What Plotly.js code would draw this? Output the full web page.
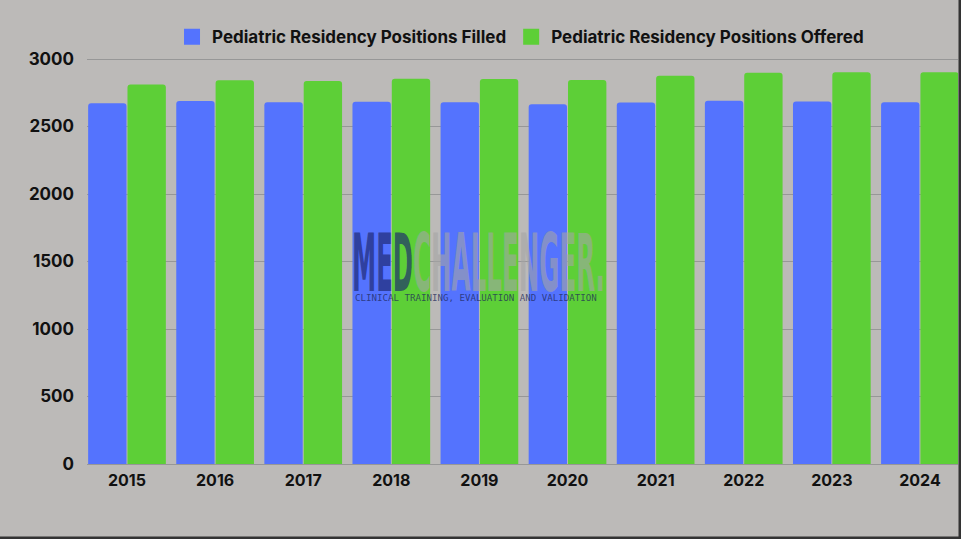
<!DOCTYPE html>
<html>
<head>
<meta charset="utf-8">
<script src="https://cdn.plot.ly/plotly-3.0.1.min.js"></script>
<style>html,body{margin:0;padding:0;background:#bcbab8;}#chart{width:961px;height:539px;}</style>
</head>
<body>
<div id="chart"></div>
<script>
const years = ['2015','2016','2017','2018','2019','2020','2021','2022','2023','2024'];
const filled = [2672, 2689, 2679, 2684, 2679, 2664, 2677, 2691, 2686, 2679];
const offered = [2812, 2842, 2837, 2854, 2852, 2844, 2876, 2899, 2901, 2901];
const seriesNames = ['Pediatric Residency Positions Filled', 'Pediatric Residency Positions Offered'];
const yTicks = [0, 500, 1000, 1500, 2000, 2500, 3000];

const BLUE = '#5473fe';
const GREEN = '#5dcf37';
const BG = '#bcbab8';
const FONT = 'Inter, "Open Sans", sans-serif';
const WM_FONT = '"DejaVu Sans", sans-serif';

const traces = [
  {type:'bar', x: years, y: filled, name: seriesNames[0], marker:{color: BLUE}, showlegend:false, hoverinfo:'y'},
  {type:'bar', x: years, y: offered, name: seriesNames[1], marker:{color: GREEN}, showlegend:false, hoverinfo:'y'},
  {type:'scatter', mode:'markers', x:[null], y:[null], name: seriesNames[0], marker:{symbol:'square', size:20, color: BLUE}, showlegend:true},
  {type:'scatter', mode:'markers', x:[null], y:[null], name: seriesNames[1], marker:{symbol:'square', size:20, color: GREEN}, showlegend:true}
];

const layout = {
  width: 961, height: 539,
  margin: {l: 87, r: 3, t: 50, b: 75, pad: 0},
  paper_bgcolor: BG, plot_bgcolor: BG,
  barmode: 'group', bargap: 0.107, bargroupgap: 0.025, barcornerradius: 3,
  font: {family: FONT, color: '#111'},
  xaxis: {
    type: 'category', range: [-0.454, 9.432], showgrid: false, zeroline: false,
    showline: false, ticks: '', ticklabelstandoff: 5,
    tickfont: {family: FONT, size: 16, weight: 700, color: '#111'}
  },
  yaxis: {
    range: [0, 3066.7], tickvals: yTicks, ticktext: yTicks.map(String),
    showgrid: true, gridcolor: '#979797', gridwidth: 1,
    zeroline: true, zerolinecolor: '#979797', zerolinewidth: 1,
    showline: false, ticks: '', ticklabelstandoff: 12,
    tickfont: {family: FONT, size: 17, weight: 700, color: '#111'}
  },
  legend: {
    orientation: 'h', x: 0.0976, xanchor: 'left', y: 1.031, yanchor: 'middle',
    bgcolor: 'rgba(0,0,0,0)', font: {family: FONT, size: 17, weight: 700, color: '#111'},
    itemsizing: 'trace', traceorder: 'normal'
  },
  annotations: [
    {xref:'paper', yref:'paper', x:0.3743, y:0.488, xanchor:'right', yanchor:'middle', showarrow:false,
     text:'MED', font:{family: WM_FONT, size:80, weight:700, color:'rgba(28,38,110,0.68)'}},
    {xref:'paper', yref:'paper', x:0.3743, y:0.488, xanchor:'left', yanchor:'middle', showarrow:false,
     text:'CHALLENGER.', font:{family: WM_FONT, size:80, weight:700, color:'rgba(165,165,165,0.6)'}},
    {xref:'paper', yref:'paper', x:0.4466, y:0.3986, xanchor:'center', yanchor:'middle', showarrow:false,
     text:'CLINICAL TRAINING, EVALUATION AND VALIDATION', font:{family:'"DejaVu Sans Mono", monospace', size:8, color:'rgba(30,40,90,0.75)'}}
  ],
  shapes: [
    {type:'line', xref:'paper', yref:'paper', x0:1.0023, x1:1.0023, y0:-0.1812, y1:1.1208, line:{color:'#333', width:3}},
    {type:'line', xref:'paper', yref:'paper', x0:-0.1, x1:1.01, y0:-0.1787, y1:-0.1787, line:{color:'#333', width:3}}
  ]
};

// condensed watermark: target boxes in page pixels [left, width, capTop or null]
const wmTargets = [[352, 61, 233], [413, 192, 233], [355, 242, null]];

Plotly.newPlot('chart', traces, layout, {displayModeBar: false, staticPlot: true}).then(function (gd) {
  const groups = gd.querySelectorAll('g.annotation');
  groups.forEach(function (g, i) {
    const t = wmTargets[i];
    if (!t) return;
    const txt = g.querySelector('text');
    if (!txt) return;
    const r = txt.getBoundingClientRect();
    const sx = t[1] / r.width;
    const tx = t[0] - r.left * sx;
    let ty = 0;
    if (t[2] !== null) {
      const F = 80;
      ty = t[2] - (r.top + 0.199 * F);
    }
    g.setAttribute('transform', 'translate(' + tx + ',' + ty + ') scale(' + sx + ',1)');
  });
});
</script>
</body>
</html>
